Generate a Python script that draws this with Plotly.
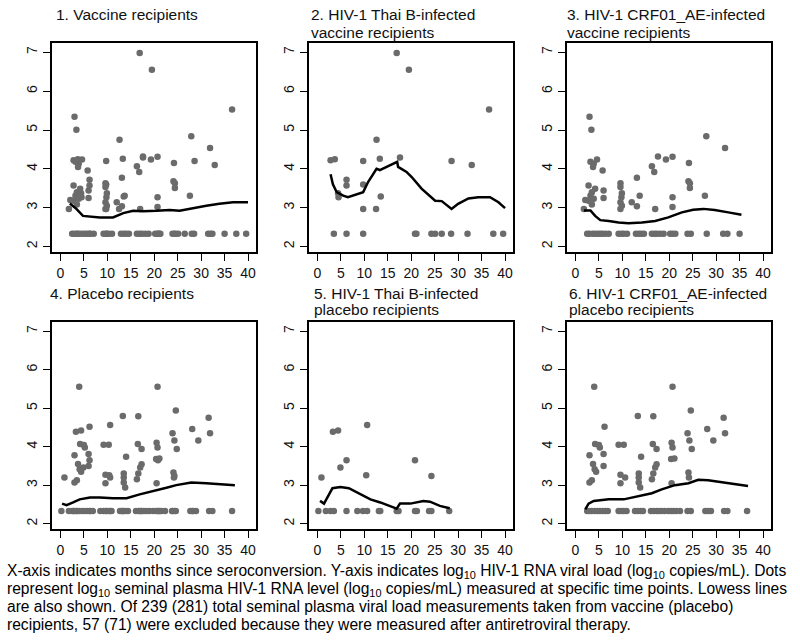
import plotly.graph_objects as go

# ---------------- data (months since seroconversion, log10 copies/mL) ----------------
LOD = 2.33
# Panel 2: HIV-1 Thai B-infected vaccine recipients
thaiB_vac_x = [2.8, 3.7, 4.4, 4.5, 6.2, 6.2, 9.75, 9.75, 9.75, 12.6, 12.5, 13.3, 13.5, 16.9, 17.6, 19.5,
               28.6, 32.9, 36.6,
               3.5, 6.2, 9.75, 20.8, 21.1, 24.3, 25.1, 26.5, 28.5, 32.0, 37.5, 39.6]
thaiB_vac_y = [4.22, 4.25, 3.37, 3.27, 3.72, 3.57, 4.2, 3.6, 2.97, 4.75, 2.97, 4.26, 3.29, 6.98, 4.29, 6.55,
               4.2, 4.1, 5.53,
               LOD, LOD, LOD, LOD, LOD, LOD, LOD, LOD, LOD, LOD, LOD, LOD]
thaiB_vac_lowess_x = [2.8, 3.3, 4.1, 5.5, 6.5, 7.6, 9.75, 10.8, 12.6, 13.3, 15.4, 17.0, 17.2, 19.0, 20.1,
                      22.2, 25.1, 26.5, 28.6, 30.0, 32.2, 34.3, 36.8, 38.6, 40.0]
thaiB_vac_lowess_y = [3.86, 3.6, 3.4, 3.31, 3.27, 3.31, 3.4, 3.66, 4.0, 3.97, 4.09, 4.18, 4.05, 3.92, 3.79,
                      3.49, 3.18, 3.17, 2.97, 3.1, 3.24, 3.27, 3.27, 3.14, 2.99]

# Panel 3: HIV-1 CRF01_AE-infected vaccine recipients
ae_vac_x = [1.8, 2.1, 2.8, 3.0, 3.4, 3.2, 3.9, 4.6, 3.75, 3.5, 3.2, 3.9, 2.8, 4.2, 3.5, 5.8, 6.0, 6.0,
            9.6, 9.6, 9.8, 9.9, 9.6, 9.6, 9.9, 12.0, 13.1, 13.1, 13.7, 16.3, 16.8, 17.0, 17.6,
            19.3, 20.7, 20.7, 20.7, 24.1, 24.4, 24.4, 24.2, 27.6, 27.9, 31.9,
            2.5, 3.0, 3.7, 4.2, 4.8, 5.3, 5.8, 6.4, 7.1, 9.2, 9.8, 10.3, 11.0, 12.9, 13.5, 14.0, 14.6,
            16.3, 16.9, 17.4, 18.1, 18.8, 20.2, 20.7, 21.3, 23.9, 24.6, 28.0, 31.5, 32.4, 35.0]
ae_vac_y = [2.97, 3.2, 3.57, 5.34, 5.01, 4.18, 4.13, 4.24, 4.05, 3.4, 3.31, 3.23, 3.18, 3.49, 3.08, 3.96, 3.44, 3.25,
            3.63, 3.53, 3.27, 3.37, 3.14, 2.97, 3.05, 3.14, 3.77, 3.04, 3.31, 4.07, 3.92, 2.97, 4.32,
            4.24, 4.31, 3.27, 3.02, 3.68, 3.63, 3.51, 4.15, 3.31, 4.84, 4.54] + [LOD] * 31
ae_vac_lowess_x = [1.8, 3.2, 4.2, 5.3, 7.1, 9.2, 11.3, 14.2, 17.0, 19.8, 22.7, 25.1, 27.3, 29.7, 32.6, 35.4]
ae_vac_lowess_y = [2.93, 2.93, 2.79, 2.68, 2.66, 2.62, 2.6, 2.62, 2.66, 2.75, 2.88, 2.95, 2.97, 2.94, 2.88, 2.82]

# Panel 1 lowess (all vaccine recipients)
vac_lowess_x = [2.0, 3.4, 4.8, 6.3, 8.4, 11.2, 13.4, 15.5, 17.6, 20.5, 23.3, 25.4, 28.3, 31.1, 33.9, 36.8, 40.0]
vac_lowess_y = [3.11, 2.97, 2.79, 2.77, 2.75, 2.75, 2.86, 2.92, 2.91, 2.92, 2.94, 2.92, 2.99, 3.05, 3.1, 3.14, 3.14]

# Panel 5: HIV-1 Thai B-infected placebo recipients
thaiB_pla_x = [0.85, 3.3, 4.4, 4.9, 6.2, 10.6, 10.4, 20.8, 24.3,
               0.2, 1.8, 2.8, 3.5, 6.2, 8.5, 9.7, 10.6, 13.1, 13.4, 16.9, 17.3, 20.8, 21.2, 23.8, 24.3, 28.1]
thaiB_pla_y = [3.2, 4.39, 4.42, 3.46, 3.65, 4.56, 3.26, 3.65, 3.24] + [LOD] * 17
thaiB_pla_lowess_x = [0.55, 1.4, 3.2, 4.9, 6.7, 9.9, 11.3, 13.4, 15.5, 16.9, 17.6, 19.8, 22.6, 24.0, 26.1, 28.2]
thaiB_pla_lowess_y = [2.59, 2.52, 2.92, 2.95, 2.92, 2.72, 2.63, 2.55, 2.46, 2.39, 2.52, 2.52, 2.59, 2.57, 2.46, 2.4]

# Panel 6: HIV-1 CRF01_AE-infected placebo recipients
ae_pla_x = [4.0, 3.0, 3.0, 3.5, 3.75, 4.1, 4.2, 5.0, 4.4, 6.2, 6.0, 6.0, 5.2,
            9.2, 10.3, 9.6, 9.6, 10.6, 13.3, 14.0, 13.5, 13.5, 13.5, 13.8,
            16.6, 16.5, 17.3, 17.0, 16.6, 16.3, 17.3, 20.7, 20.5, 20.7, 20.4, 21.1, 20.5,
            23.9, 24.3, 24.6, 24.8, 24.1, 24.2, 28.1, 29.4, 31.6, 31.9,
            2.5, 3.0, 3.5, 4.1, 4.7, 5.2, 5.8, 6.4, 6.9, 9.2, 9.8, 10.3, 10.9, 12.7, 13.3, 13.9, 14.4,
            16.1, 16.7, 17.3, 17.8, 18.4, 19.0, 19.8, 20.4, 20.9, 21.5, 22.3, 23.9, 24.6,
            27.7, 28.3, 28.9, 31.7, 32.4, 36.6]
ae_pla_y = [5.56, 3.78, 3.07, 3.13, 3.55, 3.41, 4.07, 4.04, 3.35, 4.52, 3.81, 3.5, 3.98,
            4.05, 4.05, 3.27, 3.05, 3.2, 4.8, 3.74, 3.3, 3.2, 3.07, 2.94,
            4.79, 4.07, 3.94, 3.46, 3.3, 3.15, 3.54, 5.56, 4.1, 3.98, 3.68, 3.69, 3.05,
            4.35, 4.16, 4.94, 3.94, 3.33, 3.2, 4.46, 4.16, 4.75, 4.35] + [LOD] * 36
ae_pla_lowess_x = [2.1, 2.8, 3.9, 7.1, 10.3, 13.5, 16.3, 18.4, 21.2, 24.1, 26.2, 28.3, 31.2, 34.0, 36.8]
ae_pla_lowess_y = [2.37, 2.52, 2.59, 2.63, 2.63, 2.72, 2.79, 2.89, 3.0, 3.05, 3.14, 3.13, 3.08, 3.02, 2.98]

# Panel 4 lowess (all placebo recipients)
pla_lowess_x = [0.35, 1.3, 2.7, 4.1, 6.3, 8.4, 11.2, 14.1, 16.9, 19.8, 22.6, 24.7, 27.9, 31.1, 34.7, 37.2]
pla_lowess_y = [2.52, 2.48, 2.55, 2.63, 2.68, 2.68, 2.66, 2.66, 2.76, 2.84, 2.93, 3.0, 3.07, 3.05, 3.02, 3.0]

x_ticks = [0, 5, 10, 15, 20, 25, 30, 35, 40]
y_ticks = [2, 3, 4, 5, 6, 7]

titles = [
    ["1. Vaccine recipients"],
    ["2. HIV-1 Thai B-infected", "vaccine recipients"],
    ["3. HIV-1 CRF01_AE-infected", "vaccine recipients"],
    ["4. Placebo recipients"],
    ["5. HIV-1 Thai B-infected", "placebo recipients"],
    ["6. HIV-1 CRF01_AE-infected", "placebo recipients"],
]

caption_lines = [
    "X-axis indicates months since seroconversion. Y-axis indicates log<sub>10</sub> HIV-1 RNA viral load (log<sub>10</sub> copies/mL). Dots",
    "represent log<sub>10</sub> seminal plasma HIV-1 RNA level (log<sub>10</sub> copies/mL) measured at specific time points. Lowess lines",
    "are also shown. Of 239 (281) total seminal plasma viral load measurements taken from vaccine (placebo)",
    "recipients, 57 (71) were excluded because they were measured after antiretroviral therapy.",
]

panel_data = [
    (thaiB_vac_x + ae_vac_x, thaiB_vac_y + ae_vac_y, vac_lowess_x, vac_lowess_y),
    (thaiB_vac_x, thaiB_vac_y, thaiB_vac_lowess_x, thaiB_vac_lowess_y),
    (ae_vac_x, ae_vac_y, ae_vac_lowess_x, ae_vac_lowess_y),
    (thaiB_pla_x + ae_pla_x, thaiB_pla_y + ae_pla_y, pla_lowess_x, pla_lowess_y),
    (thaiB_pla_x, thaiB_pla_y, thaiB_pla_lowess_x, thaiB_pla_lowess_y),
    (ae_pla_x, ae_pla_y, ae_pla_lowess_x, ae_pla_lowess_y),
]

# ---------------- layout geometry (pixels) ----------------
W, H = 800, 642
cols = [(52, 256), (309, 513), (567, 771)]
rows = [(43, 252), (322, 529)]
title_pos = [(54, 15), (309, 15), (565, 15), (48, 293), (312, 293), (567, 293)]
FONT = "Liberation Sans, Arial, sans-serif"

fig = go.Figure()
layout = dict(
    width=W, height=H, margin=dict(l=0, r=0, t=0, b=0),
    paper_bgcolor="white", plot_bgcolor="white", showlegend=False,
    font=dict(family=FONT, color="black"),
)
annotations = []

for i, (px, py, lx, ly) in enumerate(panel_data):
    r, c = divmod(i, 3)
    k = "" if i == 0 else str(i + 1)
    xa, ya = "x" + k, "y" + k
    fig.add_trace(go.Scatter(x=px, y=py, mode="markers", xaxis=xa, yaxis=ya,
                             marker=dict(color="#6b6b6b", size=6.5, line=dict(width=0))))
    fig.add_trace(go.Scatter(x=lx, y=ly, mode="lines", xaxis=xa, yaxis=ya,
                             line=dict(color="black", width=2.5)))
    x0, x1 = cols[c]
    y0, y1 = rows[r]
    common = dict(showline=True, mirror=True, linecolor="black", linewidth=2,
                  ticks="outside", ticklen=7, tickwidth=1.3, tickcolor="black",
                  showgrid=False, zeroline=False,
                  tickfont=dict(family=FONT, size=14, color="#111111"))
    layout["xaxis" + k] = dict(common, domain=[x0 / W, x1 / W], range=[-1.8, 41.7],
                               tickvals=x_ticks, anchor=ya)
    layout["yaxis" + k] = dict(common, domain=[1 - y1 / H, 1 - y0 / H], range=[1.86, 7.24],
                               tickvals=y_ticks, tickangle=-90, anchor=xa)
    tx, ty = title_pos[i]
    for j, line in enumerate(titles[i]):
        annotations.append(dict(text=line, x=tx / W, y=1 - (ty + 17 * j) / H,
                                xref="paper", yref="paper", xanchor="left", yanchor="middle",
                                showarrow=False, font=dict(family=FONT, size=15.5, color="#111111")))

cap_y = [571.5, 589, 606.5, 624]
for line, yy in zip(caption_lines, cap_y):
    annotations.append(dict(text=line, x=5 / W, y=1 - yy / H, xref="paper", yref="paper",
                            xanchor="left", yanchor="middle", showarrow=False,
                            font=dict(family=FONT, size=15.6, color="black")))

layout["annotations"] = annotations
fig.update_layout(**layout)
fig.write_html("out.html", config={"displayModeBar": False},
               post_script="document.body.style.margin='0';document.body.style.padding='0';")
